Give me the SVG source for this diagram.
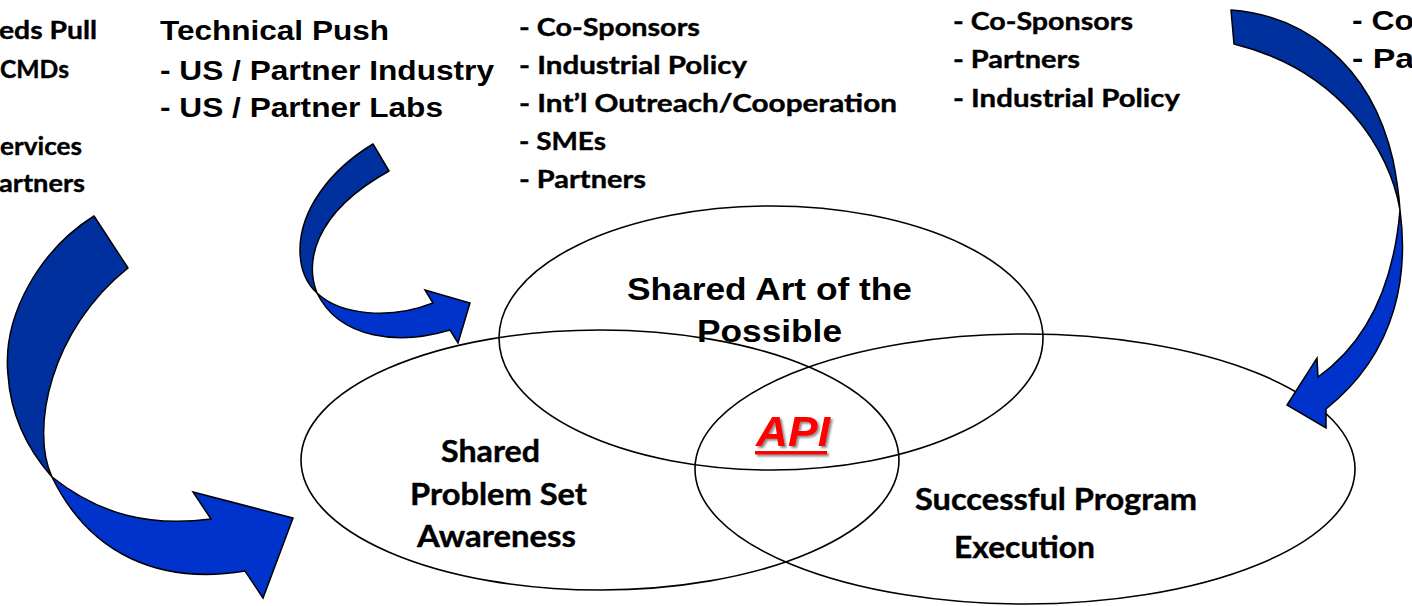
<svg xmlns="http://www.w3.org/2000/svg" width="1412" height="606" viewBox="0 0 1412 606">
<style>
  .ell { fill: none; stroke: #000; stroke-width: 1.6; }
  .cal { font-family: Lato, "Open Sans", "Liberation Sans", sans-serif; font-weight: 700; fill: #000; stroke: #000; stroke-width: 0.4; }
  .ari { font-family: "Liberation Sans", Arial, sans-serif; font-weight: 700; fill: #000; }
  .dark { fill: #00309E; stroke: #000; stroke-width: 1.5; stroke-linejoin: round; }
  .light { fill: #0033CC; stroke: #000; stroke-width: 1.5; stroke-linejoin: miter; }
</style>
<defs>
  <filter id="shadow" x="-20%" y="-20%" width="140%" height="140%">
    <feDropShadow dx="2" dy="2" stdDeviation="1" flood-color="#000" flood-opacity="0.45"/>
  </filter>
</defs>
<rect width="1412" height="606" fill="#fff"/>

<g id="node-art-of-possible">
  <ellipse class="ell" cx="771" cy="338" rx="272" ry="132"/>
  <text class="ari" font-size="31" x="627" y="300" textLength="285" lengthAdjust="spacingAndGlyphs">Shared Art of the</text>
  <text class="ari" font-size="31" x="697" y="342" textLength="145" lengthAdjust="spacingAndGlyphs">Possible</text>
</g>

<g id="node-problem-set">
  <ellipse class="ell" cx="600" cy="460" rx="299" ry="130"/>
  <text class="cal" font-size="30" x="441" y="462" textLength="99" lengthAdjust="spacingAndGlyphs">Shared</text>
  <text class="cal" font-size="30" x="410" y="505" textLength="177" lengthAdjust="spacingAndGlyphs">Problem Set</text>
  <text class="cal" font-size="30" x="417" y="547" textLength="159" lengthAdjust="spacingAndGlyphs">Awareness</text>
</g>

<g id="node-program-execution">
  <ellipse class="ell" cx="1025" cy="469" rx="330" ry="135"/>
  <text class="cal" font-size="30" x="915" y="510" textLength="282" lengthAdjust="spacingAndGlyphs">Successful Program</text>
  <text class="cal" font-size="30" x="954" y="558" textLength="141" lengthAdjust="spacingAndGlyphs">Execution</text>
</g>

<g id="node-api" filter="url(#shadow)">
  <text font-family="'Liberation Sans', Arial, sans-serif" font-weight="700" font-style="italic" font-size="42" fill="#FF0000" x="756" y="446" textLength="74" lengthAdjust="spacingAndGlyphs">API</text>
  <rect x="755" y="451" width="72" height="3.5" fill="#FF0000"/>
</g>

<g id="node-needs-pull">
  <text class="cal" font-size="25" x="-1" y="39" textLength="98" lengthAdjust="spacingAndGlyphs">eds Pull</text>
  <text class="cal" font-size="25" x="0" y="78" textLength="69" lengthAdjust="spacingAndGlyphs">CMDs</text>
  <text class="cal" font-size="25" x="0" y="155" textLength="82" lengthAdjust="spacingAndGlyphs">ervices</text>
  <text class="cal" font-size="25" x="-1" y="192" textLength="86" lengthAdjust="spacingAndGlyphs">artners</text>
</g>

<g id="node-technical-push">
  <text class="ari" font-size="28" x="160" y="40" textLength="229" lengthAdjust="spacingAndGlyphs">Technical Push</text>
  <text class="ari" font-size="28" x="160" y="80" textLength="334" lengthAdjust="spacingAndGlyphs">- US / Partner Industry</text>
  <text class="ari" font-size="28" x="160" y="117" textLength="283" lengthAdjust="spacingAndGlyphs">- US / Partner Labs</text>
</g>

<g id="node-middle-list">
  <text class="cal" font-size="25" x="519" y="36" textLength="181" lengthAdjust="spacingAndGlyphs">- Co-Sponsors</text>
  <text class="cal" font-size="25" x="519" y="74" textLength="228" lengthAdjust="spacingAndGlyphs">- Industrial Policy</text>
  <text class="cal" font-size="25" x="519" y="112" textLength="378" lengthAdjust="spacingAndGlyphs">- Int’l Outreach/Cooperation</text>
  <text class="cal" font-size="25" x="519" y="150" textLength="87" lengthAdjust="spacingAndGlyphs">- SMEs</text>
  <text class="cal" font-size="25" x="519" y="188" textLength="127" lengthAdjust="spacingAndGlyphs">- Partners</text>
</g>

<g id="node-right-list">
  <text class="cal" font-size="25" x="953" y="30" textLength="180" lengthAdjust="spacingAndGlyphs">- Co-Sponsors</text>
  <text class="cal" font-size="25" x="953" y="68" textLength="127" lengthAdjust="spacingAndGlyphs">- Partners</text>
  <text class="cal" font-size="25" x="953" y="107" textLength="227" lengthAdjust="spacingAndGlyphs">- Industrial Policy</text>
</g>

<g id="node-far-right">
  <text class="ari" font-size="28" x="1352" y="30" textLength="62" lengthAdjust="spacingAndGlyphs">- Co</text>
  <text class="ari" font-size="28" x="1352" y="68" textLength="62" lengthAdjust="spacingAndGlyphs">- Pa</text>
</g>

<g id="connectors">
  <g id="arrow-needs-pull">
    <path class="dark" d="M94,216 C40,250 2,315 8,375 C11,420 30,452 52,477 C30,430 50,330 128,268 Z"/>
    <path class="light" d="M52,477 C100,515 150,527 211,519 L193,492 L293,518 L263,598 L245,571 C160,585 90,555 52,477 Z"/>
  </g>
  <g id="arrow-technical-push">
    <path class="dark" d="M373,144 C330,170 300,210 300,250 C300,268 306,283 317,293 C306,265 310,215 389,171 Z"/>
    <path class="light" d="M317,293 C340,315 390,320 433,303 L425,290 L470,303 L458,343 L450,330 C400,345 340,340 317,293 Z"/>
  </g>
  <g id="arrow-execution">
    <path class="dark" d="M1231,10 C1300,15 1370,60 1393,160 C1397,180 1399,195 1400,210 C1390,150 1340,70 1234,44 Z"/>
    <path class="light" d="M1400,210 C1408,270 1400,350 1326,409 L1326,428 L1287,405 L1317,358 L1318,377 C1370,340 1394,280 1400,210 Z"/>
  </g>
</g>
</svg>
